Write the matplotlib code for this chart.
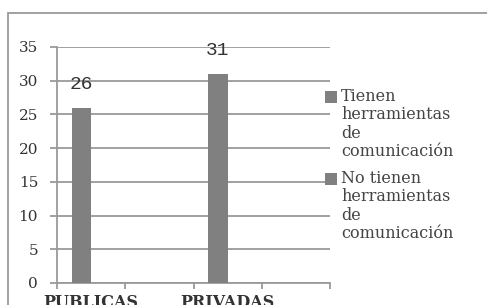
import numpy as np
import matplotlib
matplotlib.use("Agg")
import matplotlib.pyplot as plt
from matplotlib.patches import Rectangle

# -----------------------------
# Data
# -----------------------------
categories = ["PUBLICAS", "", "PRIVADAS", ""]
tienen = [26, np.nan, 31, np.nan]
no_tienen = [np.nan, np.nan, np.nan, np.nan]
series_names = ["Tienen\nherramientas\nde\ncomunicación",
                "No tienen\nherramientas\nde\ncomunicación"]
y_ticks = [0, 5, 10, 15, 20, 25, 30, 35]

bar_color = "#808080"
grid_color = "#9a9a9a"

# -----------------------------
# Figure
# -----------------------------
fig = plt.figure(figsize=(4.87, 3.05), dpi=100)
ax = fig.add_axes([57 / 487, 1 - 283 / 305, 273 / 487, 236 / 305])

# outer chart border (cut off on the right and bottom)
fig.patches.append(Rectangle((8 / 487, -0.2), 1.2, 0.2 + (1 - 13 / 305),
                             transform=fig.transFigure, fill=False,
                             edgecolor=grid_color, linewidth=1.3))

x = np.arange(len(categories))
w = 1 / 3.5
ax.bar(x - w / 2, tienen, w, color=bar_color, zorder=3)
ax.bar(x + w / 2, no_tienen, w, color=bar_color, zorder=3)

for xi, v in zip(x, tienen):
    if not np.isnan(v):
        ax.text(xi - w / 2, v + 2.2, str(v), ha="center", va="bottom",
                fontsize=14, family="Liberation Mono", color="#333333")

ax.set_xlim(-0.5, len(categories) - 0.5)
ax.set_ylim(0, 35)
ax.set_yticks(y_ticks)
ax.set_yticklabels([str(t) for t in y_ticks], family="DejaVu Serif",
                   fontsize=11, color="#333333")
ax.yaxis.grid(True, color=grid_color, linewidth=1.3, zorder=0)

# category boundaries as ticks, names in between
ax.set_xticks(np.arange(-0.5, len(categories), 1.0))
ax.set_xticklabels([])
ax.set_xticks(x, minor=True)
ax.set_xticklabels(categories, minor=True, family="DejaVu Serif",
                   fontweight="bold", fontsize=11.5, color="#333333")
ax.tick_params(axis="x", which="minor", length=0, pad=8)
ax.tick_params(axis="x", which="major", length=4, width=1.3, color=grid_color)
ax.tick_params(axis="y", length=5, width=1.3, color=grid_color, pad=8.6)

for s in ["top", "right"]:
    ax.spines[s].set_visible(False)
for s in ["left", "bottom"]:
    ax.spines[s].set_color(grid_color)
    ax.spines[s].set_linewidth(1.3)

# -----------------------------
# Legend
# -----------------------------
leg_y = [1 - 97 / 305, 1 - 179 / 305]
for name, yy in zip(series_names, leg_y):
    fig.patches.append(Rectangle((325 / 487, yy - 6 / 305), 12 / 487, 12 / 305,
                                 transform=fig.transFigure,
                                 facecolor=bar_color, edgecolor="none"))
    fig.text(341 / 487, yy + 9 / 305, name, ha="left", va="top",
             family="DejaVu Serif", fontsize=11.5, linespacing=1.1,
             color="#444444")

fig.savefig("out.png", dpi=100)
